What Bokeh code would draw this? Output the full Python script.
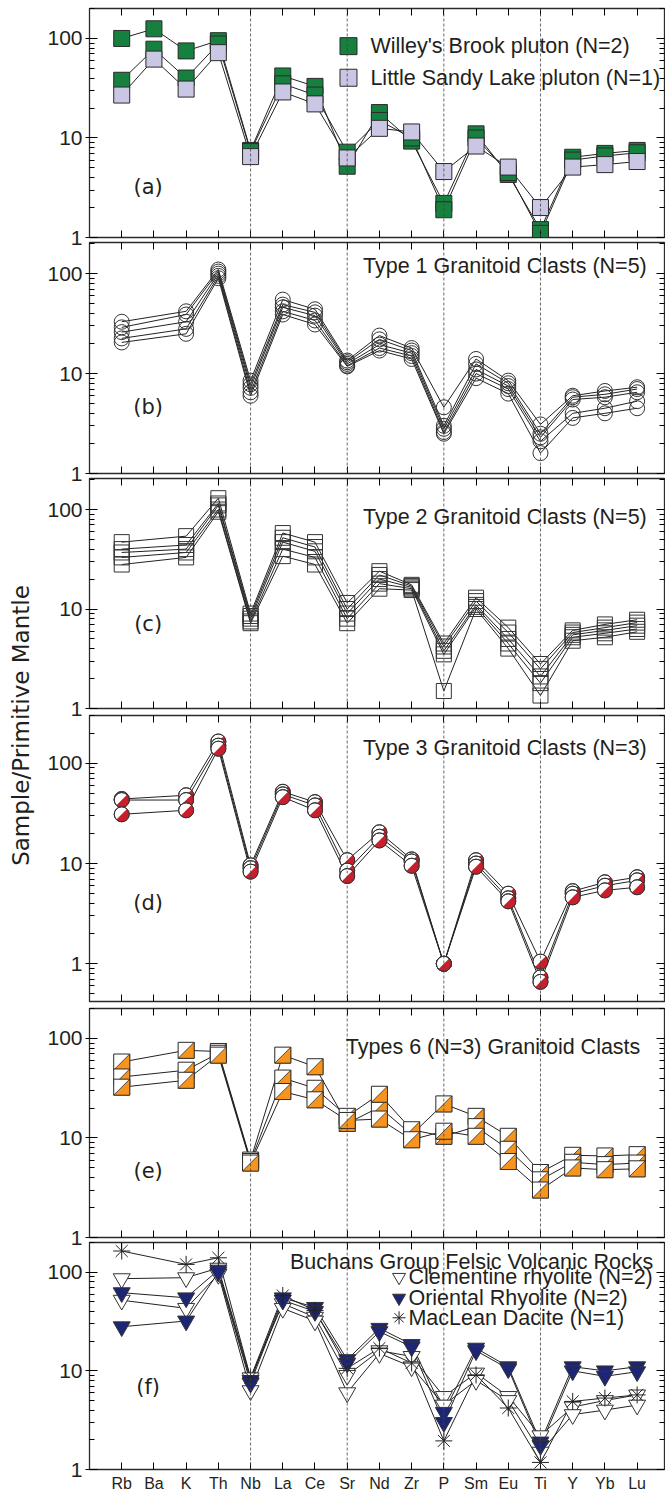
import math
from bokeh.plotting import figure
from bokeh.models import (Range1d, LogAxis, LinearAxis, FixedTicker, Span, Label,
                          BasicTickFormatter, CustomLabelingPolicy)
from bokeh.layouts import column, row
from bokeh.embed import file_html
from bokeh.resources import INLINE

# ---------------- data ----------------
elements = ["Rb", "Ba", "K", "Th", "Nb", "La", "Ce", "Sr", "Nd", "Zr",
            "P", "Sm", "Eu", "Ti", "Y", "Yb", "Lu"]
dashed_at = ["Nb", "Sr", "P", "Ti"]
N = None

# (a) plutons
willeys_brook = [
    [100, 125, 75, 95, 7.5, 42, 33, 5.2, 18, 9.3, 2.2, 11, 4.3, 1.2, 6.4, 7.0, 7.5],
    [38, 78, 40, 88, 7.3, 35, 27, 7.2, 15, 10, 1.9, 10, 4.5, 1.1, 6.0, 6.6, 7.1],
]
little_sandy = [
    [27, 62, 31, 72, 6.5, 29, 22, 6.3, 12.5, 11.5, 4.6, 8.3, 5.1, 2.0, 5.1, 5.4, 5.8],
]
# (b) Type 1
type1 = [
    [33, N, 42, 110, 8.5, 55, 44, 13.5, 24, 18, 4.6, 14, 8.5, 3.1, 6.0, 6.7, 7.3],
    [29, N, 39, 105, 7.8, 49, 41, 13, 22, 17, 3.0, 12.5, 8.0, 2.5, 5.8, 6.2, 7.0],
    [26, N, 33, 100, 7.2, 46, 38, 12.5, 19.5, 16, 2.8, 11, 7.5, 2.3, 5.5, 5.8, 6.5],
    [22.5, N, 28, 95, 6.5, 42, 34, 12, 18, 15, 2.6, 10, 7.0, 2.1, 4.0, 4.5, 5.3],
    [20.5, N, 25, 90, 6.0, 39, 31, 11.8, 17, 14, 2.5, 9, 6.3, 1.6, 3.6, 4.0, 4.5],
]
# (c) Type 2
type2 = [
    [47, N, 54, 130, 9.0, 58, 47, 11.5, 24, 17.5, 4.5, 13, 6.5, 2.8, 6.1, 7.0, 7.8],
    [40, N, 44, 115, 8.5, 52, 42, 10, 22, 17, 4.2, 12, 5.8, 2.5, 5.8, 6.5, 7.3],
    [37, N, 40, 110, 8.0, 47, 38, 9, 20, 16.5, 3.8, 11, 5.0, 2.1, 5.5, 6.1, 6.8],
    [33, N, 37, 100, 7.5, 40, 33, 8, 18, 16, 3.5, 10.5, 4.5, 1.8, 5.2, 5.7, 6.3],
    [28, N, 33, 95, 7.2, 34, 28, 7.2, 16, 15.5, 1.5, 10, 4.0, 1.35, 4.8, 5.2, 5.9],
]
# (d) Type 3
type3 = [
    [44, N, 48, 165, 9.6, 52, 41, 10.8, 20.5, 11, 1.0, 10.8, 5.0, 1.05, 5.3, 6.5, 7.3],
    [43, N, 43, 150, 9.0, 49, 38, 8.5, 18.5, 10.5, 1.0, 10, 4.5, 0.73, 5.0, 6.0, 6.8],
    [31, N, 34, 140, 8.3, 46, 34, 7.5, 17, 9.5, 1.0, 9.3, 4.2, 0.66, 4.6, 5.4, 5.8],
]
# (e) Types 6
type6 = [
    [58, N, 76, 74, 6.0, 68, 52, 14, 20.4, 10.8, 22, 16.5, 10.4, 4.5, 6.7, 6.6, 6.8],
    [41, N, 48, 71, 5.8, 40, 31.6, 16.5, 27.5, 12.1, 10.4, 13, 7.7, 3.8, 5.7, 5.4, 5.6],
    [32.4, N, 38, 68, 5.6, 29.3, 24.2, 15, 15.5, 9.6, 11.7, 10.4, 5.8, 3.0, 5.0, 4.8, 4.9],
]
# (f) Buchans Group
clementine = [
    [86, N, 88, 110, 8.5, 48, 35, 9, 16, 14, 5.5, 9.5, 5.5, 2.2, 4.3, 5.0, 5.7],
    [52, N, 43, 95, 6.3, 43, 32, 6.0, 15, 11, 4.5, 8.0, 5.0, 1.5, 3.6, 4.0, 4.5],
]
oriental = [
    [62, N, 55, 105, 8.0, 55, 44, 13, 27, 18.5, 3.8, 17, 11, 1.9, 11, 10, 11],
    [28, N, 32, 100, 7.5, 52, 40, 12, 25, 17.5, 3.0, 16, 10.5, 1.75, 10, 8.8, 9.8],
]
maclean = [
    [164, N, 120, 140, 8.5, 58, 41, 10.6, 17, 12, 1.95, 9.1, 4.2, 1.18, 4.9, 5.3, 5.7],
]

major_y = [1, 10, 100]
minor_y = [m * 10.0 ** e for e in (-1, 0, 1, 2) for m in range(2, 10)]

# ---------------- styling ----------------
FONT = "Liberation Sans"
GEO = "DejaVu Sans"
TXT = "#231f20"
LINE = "#222222"
FRAME_LINE = "#2b2b2b"
X_RANGE = (-1.0, 16.85)
PANEL_W = 625
FRAME_W = 575
OVERLAP = 9


def no_labels():
    return CustomLabelingPolicy(code="for (const i of indices) indices.unset(i); return indices")


def pts(series):
    xs = [i for i, v in enumerate(series) if v is not None]
    ys = [v for v in series if v is not None]
    return xs, ys


def make_panel(h, top, bottom, ylo, yhi, show_x=False, first=False):
    styles = {} if first else {"margin-top": "-%dpx" % OVERLAP}
    p = figure(width=PANEL_W, height=h, x_range=Range1d(*X_RANGE), y_range=Range1d(ylo, yhi),
               y_axis_type="log", output_backend="svg", toolbar_location=None,
               min_border_left=49, min_border_right=1, min_border_top=top, min_border_bottom=bottom,
               background_fill_color=None, border_fill_color=None, styles=styles)
    p.grid.visible = False
    p.outline_line_color = FRAME_LINE
    p.outline_line_width = 1.3
    xt = FixedTicker(ticks=list(range(len(elements))))
    yt = FixedTicker(ticks=major_y, minor_ticks=minor_y)
    # left
    ax = p.yaxis[0]
    ax.ticker = yt
    ax.formatter = BasicTickFormatter()
    ax.major_label_text_font = FONT
    ax.major_label_text_font_size = "21px"
    ax.major_label_text_color = TXT
    ax.major_label_standoff = 3
    ax.major_tick_in = 8
    ax.major_tick_out = 4
    ax.minor_tick_in = 5
    ax.minor_tick_out = 0
    ax.axis_line_color = FRAME_LINE
    # bottom
    bx = p.xaxis[0]
    bx.ticker = xt
    bx.major_tick_in = 7
    bx.major_tick_out = 0
    bx.minor_tick_line_color = None
    bx.axis_line_color = FRAME_LINE
    if show_x:
        bx.major_label_overrides = {i: e for i, e in enumerate(elements)}
        bx.major_label_text_font = FONT
        bx.major_label_text_font_size = "16px"
        bx.major_label_text_color = TXT
        bx.major_label_standoff = 5
    else:
        bx.major_label_text_font_size = "0px"
        bx.major_label_standoff = 0
        bx.major_label_policy = no_labels()
    # top
    tx = LinearAxis(ticker=xt, major_tick_in=7, major_tick_out=0,
                    major_label_text_font_size="0px", major_label_standoff=0,
                    major_label_policy=no_labels(),
                    minor_tick_line_color=None, axis_line_color=FRAME_LINE)
    p.add_layout(tx, "above")
    # right
    ry = LogAxis(ticker=yt, formatter=BasicTickFormatter(), major_tick_in=8, major_tick_out=0,
                 minor_tick_in=5, minor_tick_out=0, major_label_text_font_size="0px",
                 major_label_standoff=0, major_label_policy=no_labels(),
                 axis_line_color=FRAME_LINE)
    p.add_layout(ry, "right")
    for e in dashed_at:
        p.add_layout(Span(location=elements.index(e), dimension="height", line_color="#444444",
                          line_width=0.8, line_dash="3 2"))
    return p


def lines(p, group):
    for s in group:
        xs, ys = pts(s)
        p.line(xs, ys, line_color=LINE, line_width=1)


def title(p, text, x, y):
    p.add_layout(Label(x=x, y=y, text=text, text_align="right", text_baseline="middle",
                       text_font=FONT, text_font_size="21.5px", text_color=TXT))


def tag(p, text, y):
    p.add_layout(Label(x=0.82, y=y, text=text, text_align="center", text_baseline="middle",
                       text_font=GEO, text_font_size="21px", text_color=TXT))


def legend_text(p, text, x, y):
    p.add_layout(Label(x=x, y=y, text=text, text_align="left", text_baseline="middle",
                       text_font=FONT, text_font_size="21.5px", text_color=TXT))


# ---------------- (a) ----------------
pa = make_panel(249, 8, 12, 1, 200, first=True)
lines(pa, willeys_brook + little_sandy)
for s in willeys_brook:
    xs, ys = pts(s)
    pa.scatter(xs, ys, marker="square", size=16, fill_color="#16803f", line_color="#2a2a2a", line_width=1)
for s in little_sandy:
    xs, ys = pts(s)
    pa.scatter(xs, ys, marker="square", size=16, fill_color="#c9c7e4", line_color="#2a2a2a", line_width=1)
pa.scatter([7.04], [83.7], marker="square", size=17, fill_color="#16803f", line_color="#2a2a2a")
pa.scatter([7.04], [40.3], marker="square", size=17, fill_color="#c9c7e4", line_color="#2a2a2a")
legend_text(pa, "Willey's Brook pluton (N=2)", 7.72, 83.7)
legend_text(pa, "Little Sandy Lake pluton (N=1)", 7.72, 40.3)
tag(pa, "(a)", 3.2)

# ---------------- (b) ----------------
pb = make_panel(245, 2, 12, 1, 205)
lines(pb, type1)
for s in type1:
    xs, ys = pts(s)
    pb.scatter(xs, ys, marker="circle", size=15, fill_color=None, line_color="#333333", line_width=1)
title(pb, "Type 1 Granitoid Clasts (N=5)", 16.3, 120)
tag(pb, "(b)", 4.6)

# ---------------- (c) ----------------
pc = make_panel(244, 2, 12, 1, 205)
lines(pc, type2)
for s in type2:
    xs, ys = pts(s)
    pc.scatter(xs, ys, marker="square", size=15, fill_color=None, line_color="#333333", line_width=1)
title(pc, "Type 2 Granitoid Clasts (N=5)", 16.3, 85)
tag(pc, "(c)", 7.1)

# ---------------- (d) ----------------
pd_ = make_panel(302, 4, 12, 0.42, 300)
lines(pd_, type3)
for s in type3:
    xs, ys = pts(s)
    pd_.scatter(xs, ys, marker="circle", size=15, fill_color="white", line_color="#333333", line_width=1)
    pd_.wedge(xs, ys, radius=7.5, radius_units="screen", start_angle=-3 * math.pi / 4,
              end_angle=math.pi / 4, fill_color="#c81f2d", line_color=None)
    pd_.scatter(xs, ys, marker="circle", size=15, fill_color=None, line_color="#333333", line_width=1)
title(pd_, "Type 3 Granitoid Clasts (N=3)", 16.3, 141)
tag(pd_, "(d)", 4.0)

# ---------------- (e) ----------------
pe = make_panel(245, 4, 12, 1, 200)
lines(pe, type6)
half_px = 8.0
hx = half_px / (FRAME_W / (X_RANGE[1] - X_RANGE[0]))
hy = 10 ** (half_px / (229 / math.log10(200)))
for s in type6:
    xs, ys = pts(s)
    pe.scatter(xs, ys, marker="square", size=16, fill_color="white", line_color="#2a2a2a", line_width=1)
    pe.patches([[x - hx, x + hx, x + hx] for x in xs],
               [[y / hy, y / hy, y * hy] for y in ys],
               fill_color="#f7941d", line_color="#2a2a2a", line_width=0.8)
title(pe, "Types 6 (N=3) Granitoid Clasts", 16.1, 83)
tag(pe, "(e)", 4.7)

# ---------------- (f) ----------------
pf = make_panel(254, 2, 23, 1, 200, show_x=True)
lines(pf, clementine + oriental + maclean)
for s in clementine:
    xs, ys = pts(s)
    pf.scatter(xs, ys, marker="inverted_triangle", size=17, fill_color="white", line_color="#333333", line_width=1)
for s in oriental:
    xs, ys = pts(s)
    pf.scatter(xs, ys, marker="inverted_triangle", size=17, fill_color="#1d2675", line_color="#333333", line_width=1)
for s in maclean:
    xs, ys = pts(s)
    pf.scatter(xs, ys, marker="asterisk", size=17, line_color="#222222", line_width=1)
title(pf, "Buchans Group Felsic Volcanic Rocks", 16.5, 126)
pf.scatter([8.61], [89], marker="inverted_triangle", size=13, fill_color="white", line_color="#333333")
pf.scatter([8.61], [54.8], marker="inverted_triangle", size=13, fill_color="#1d2675", line_color="#333333")
pf.scatter([8.61], [34.5], marker="asterisk", size=13, line_color="#222222")
legend_text(pf, "Clementine rhyolite (N=2)", 8.9, 89)
legend_text(pf, "Oriental Rhyolite (N=2)", 8.9, 54.8)
legend_text(pf, "MacLean Dacite (N=1)", 8.9, 34.5)
tag(pf, "(f)", 6.9)

# ---------------- y label ----------------
yl = figure(width=40, height=1494, x_range=Range1d(0, 40), y_range=Range1d(0, 1494),
            toolbar_location=None, output_backend="svg", min_border=0,
            x_axis_location=None, y_axis_location=None, outline_line_color=None,
            background_fill_color=None, border_fill_color=None)
yl.grid.visible = False
yl.add_layout(Label(x=20, y=1494 - 725, text="Sample/Primitive Mantle", angle=math.pi / 2,
                    text_align="center", text_baseline="middle", text_font=GEO,
                    text_font_size="23px", text_color=TXT))

layout = row(yl, column(pa, pb, pc, pd_, pe, pf))
open("out.html", "w").write(file_html(layout, INLINE))
